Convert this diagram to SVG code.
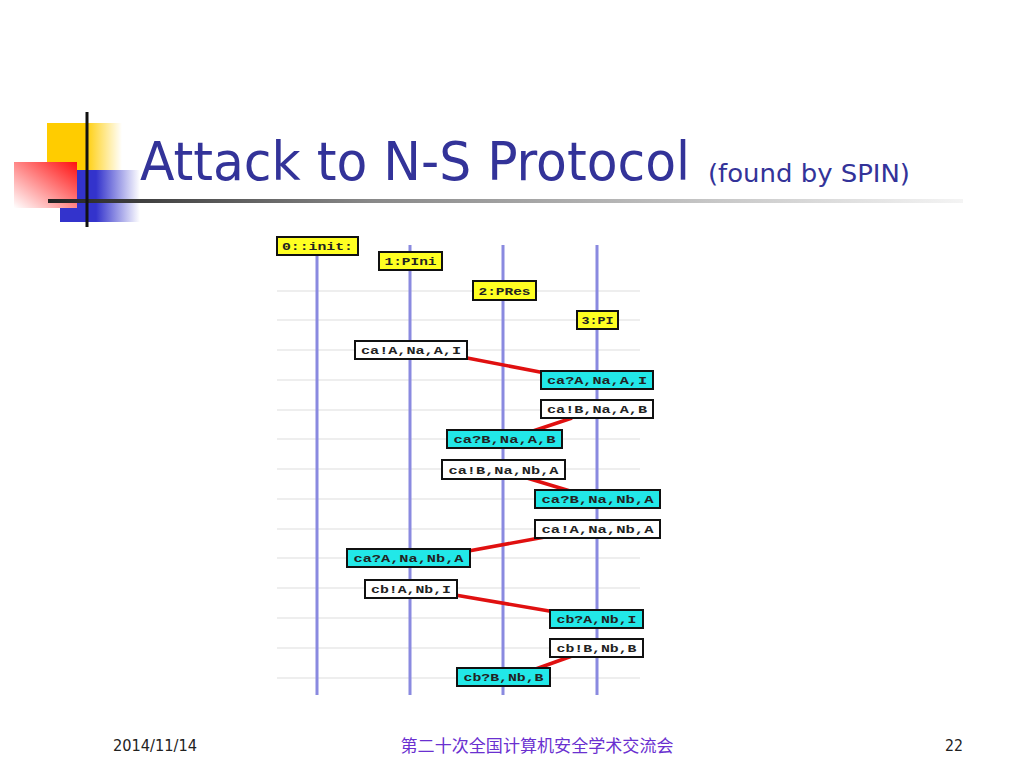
<svg xmlns="http://www.w3.org/2000/svg" width="1024" height="768" viewBox="0 0 1024 768">
<defs>
<linearGradient id="gY" x1="0" y1="0" x2="1" y2="0"><stop offset="0" stop-color="#ffcc00"/><stop offset="0.5" stop-color="#ffcc00"/><stop offset="1" stop-color="#ffcc00" stop-opacity="0"/></linearGradient>
<linearGradient id="gB" x1="0" y1="0" x2="1" y2="0"><stop offset="0" stop-color="#3333cc"/><stop offset="0.45" stop-color="#3333cc"/><stop offset="1" stop-color="#3333cc" stop-opacity="0"/></linearGradient>
<linearGradient id="gR" x1="1" y1="0" x2="0" y2="1"><stop offset="0" stop-color="#ff1010"/><stop offset="1" stop-color="#ffffff"/></linearGradient>
<linearGradient id="gL" x1="0" y1="0" x2="1" y2="0"><stop offset="0" stop-color="#222222"/><stop offset="0.35" stop-color="#888888"/><stop offset="1" stop-color="#f4f4f4"/></linearGradient>
<style>
.life{stroke:#8a8ae0;stroke-width:3}
.grid{stroke:#e8e8e8;stroke-width:1.5}
.msg{stroke:#e01010;stroke-width:3.5}
.bx{stroke:#111;stroke-width:2}
.y{fill:#ffff22}.w{fill:#ffffff}.c{fill:#22e8e8}
.bt{font-family:"Liberation Mono",monospace;font-weight:bold;font-size:11px;fill:#222;text-anchor:middle}
.ft{font-family:"DejaVu Sans Condensed","DejaVu Sans",sans-serif;font-size:15px;fill:#222}
</style>
</defs>
<rect width="1024" height="768" fill="#ffffff"/>
<g id="decor">
<rect x="47" y="123" width="75" height="47" fill="url(#gY)"/>
<rect x="60" y="170" width="80" height="52" fill="url(#gB)"/>
<rect x="14" y="162" width="63" height="46" fill="url(#gR)"/>
<rect x="48" y="199" width="915" height="4" fill="url(#gL)"/>
<line x1="87" y1="112" x2="87" y2="227" stroke="#111" stroke-width="3"/>
</g>
<g id="title">
<text x="140" y="180" font-family="DejaVu Sans Condensed, DejaVu Sans, sans-serif" font-size="53" fill="#333399" textLength="550" lengthAdjust="spacingAndGlyphs">Attack to N-S Protocol</text>
<text x="708" y="182" font-family="DejaVu Sans Condensed, DejaVu Sans, sans-serif" font-size="25" fill="#333399" textLength="202" lengthAdjust="spacingAndGlyphs">(found by SPIN)</text>
</g>
<g id="grid">
<line class="grid" x1="277" y1="291" x2="640" y2="291"/>
<line class="grid" x1="277" y1="320" x2="640" y2="320"/>
<line class="grid" x1="277" y1="350" x2="640" y2="350"/>
<line class="grid" x1="277" y1="380" x2="640" y2="380"/>
<line class="grid" x1="277" y1="410" x2="640" y2="410"/>
<line class="grid" x1="277" y1="439" x2="640" y2="439"/>
<line class="grid" x1="277" y1="469" x2="640" y2="469"/>
<line class="grid" x1="277" y1="499" x2="640" y2="499"/>
<line class="grid" x1="277" y1="529" x2="640" y2="529"/>
<line class="grid" x1="277" y1="558" x2="640" y2="558"/>
<line class="grid" x1="277" y1="588" x2="640" y2="588"/>
<line class="grid" x1="277" y1="618" x2="640" y2="618"/>
<line class="grid" x1="277" y1="648" x2="640" y2="648"/>
<line class="grid" x1="277" y1="678" x2="640" y2="678"/>
</g>
<g id="lifelines">
<line class="life" x1="317" y1="255" x2="317" y2="695"/>
<line class="life" x1="410" y1="245" x2="410" y2="695"/>
<line class="life" x1="503" y1="245" x2="503" y2="695"/>
<line class="life" x1="597" y1="245" x2="597" y2="695"/>
</g>
<g id="connectors">
<line class="msg" x1="462" y1="357" x2="545" y2="373"/>
<line class="msg" x1="572" y1="418" x2="530" y2="432"/>
<line class="msg" x1="527" y1="478" x2="570" y2="491"/>
<line class="msg" x1="545" y1="537" x2="463" y2="552"/>
<line class="msg" x1="455" y1="595" x2="555" y2="612"/>
<line class="msg" x1="572" y1="656" x2="533" y2="670"/>
</g>
<g id="n0"><rect class="bx y" x="277" y="237" width="81" height="18"/><text class="bt" x="317.5" y="250" textLength="71" lengthAdjust="spacingAndGlyphs">0::init:</text></g>
<g id="n1"><rect class="bx y" x="379" y="252" width="63" height="18"/><text class="bt" x="410.5" y="265" textLength="52" lengthAdjust="spacingAndGlyphs">1:PIni</text></g>
<g id="n2"><rect class="bx y" x="473" y="281" width="63" height="19"/><text class="bt" x="504.5" y="294.5" textLength="52" lengthAdjust="spacingAndGlyphs">2:PRes</text></g>
<g id="n3"><rect class="bx y" x="577" y="311" width="41" height="18"/><text class="bt" x="597.5" y="324" textLength="32" lengthAdjust="spacingAndGlyphs">3:PI</text></g>
<g id="m1"><rect class="bx w" x="355" y="341" width="112" height="18"/><text class="bt" x="411" y="354" textLength="100" lengthAdjust="spacingAndGlyphs">ca!A,Na,A,I</text></g>
<g id="m2"><rect class="bx c" x="541" y="371" width="112" height="18"/><text class="bt" x="597" y="384" textLength="100" lengthAdjust="spacingAndGlyphs">ca?A,Na,A,I</text></g>
<g id="m3"><rect class="bx w" x="541" y="400" width="112" height="18"/><text class="bt" x="597" y="413" textLength="100" lengthAdjust="spacingAndGlyphs">ca!B,Na,A,B</text></g>
<g id="m4"><rect class="bx c" x="447" y="430" width="115" height="18"/><text class="bt" x="504.5" y="443" textLength="102" lengthAdjust="spacingAndGlyphs">ca?B,Na,A,B</text></g>
<g id="m5"><rect class="bx w" x="442" y="460" width="123" height="19"/><text class="bt" x="503.5" y="473.5" textLength="110" lengthAdjust="spacingAndGlyphs">ca!B,Na,Nb,A</text></g>
<g id="m6"><rect class="bx c" x="535" y="490" width="125" height="18"/><text class="bt" x="597.5" y="503" textLength="112" lengthAdjust="spacingAndGlyphs">ca?B,Na,Nb,A</text></g>
<g id="m7"><rect class="bx w" x="535" y="520" width="125" height="18"/><text class="bt" x="597.5" y="533" textLength="112" lengthAdjust="spacingAndGlyphs">ca!A,Na,Nb,A</text></g>
<g id="m8"><rect class="bx c" x="347" y="549" width="123" height="18"/><text class="bt" x="408.5" y="562" textLength="110" lengthAdjust="spacingAndGlyphs">ca?A,Na,Nb,A</text></g>
<g id="m9"><rect class="bx w" x="365" y="580" width="92" height="18"/><text class="bt" x="411" y="593" textLength="80" lengthAdjust="spacingAndGlyphs">cb!A,Nb,I</text></g>
<g id="m10"><rect class="bx c" x="550" y="610" width="93" height="18"/><text class="bt" x="596.5" y="623" textLength="80" lengthAdjust="spacingAndGlyphs">cb?A,Nb,I</text></g>
<g id="m11"><rect class="bx w" x="550" y="639" width="93" height="18"/><text class="bt" x="596.5" y="652" textLength="80" lengthAdjust="spacingAndGlyphs">cb!B,Nb,B</text></g>
<g id="m12"><rect class="bx c" x="457" y="668" width="93" height="18"/><text class="bt" x="503.5" y="681" textLength="80" lengthAdjust="spacingAndGlyphs">cb?B,Nb,B</text></g>
<g id="footer">
<text class="ft" x="113" y="751" textLength="84" lengthAdjust="spacingAndGlyphs">2014/11/14</text>
<text x="537" y="752" font-family="Noto Sans CJK SC, sans-serif" font-size="16.5" fill="#6a30d0" text-anchor="middle" textLength="273" lengthAdjust="spacingAndGlyphs">第二十次全国计算机安全学术交流会</text>
<text class="ft" x="945" y="751" textLength="18" lengthAdjust="spacingAndGlyphs">22</text>
</g>
</svg>
